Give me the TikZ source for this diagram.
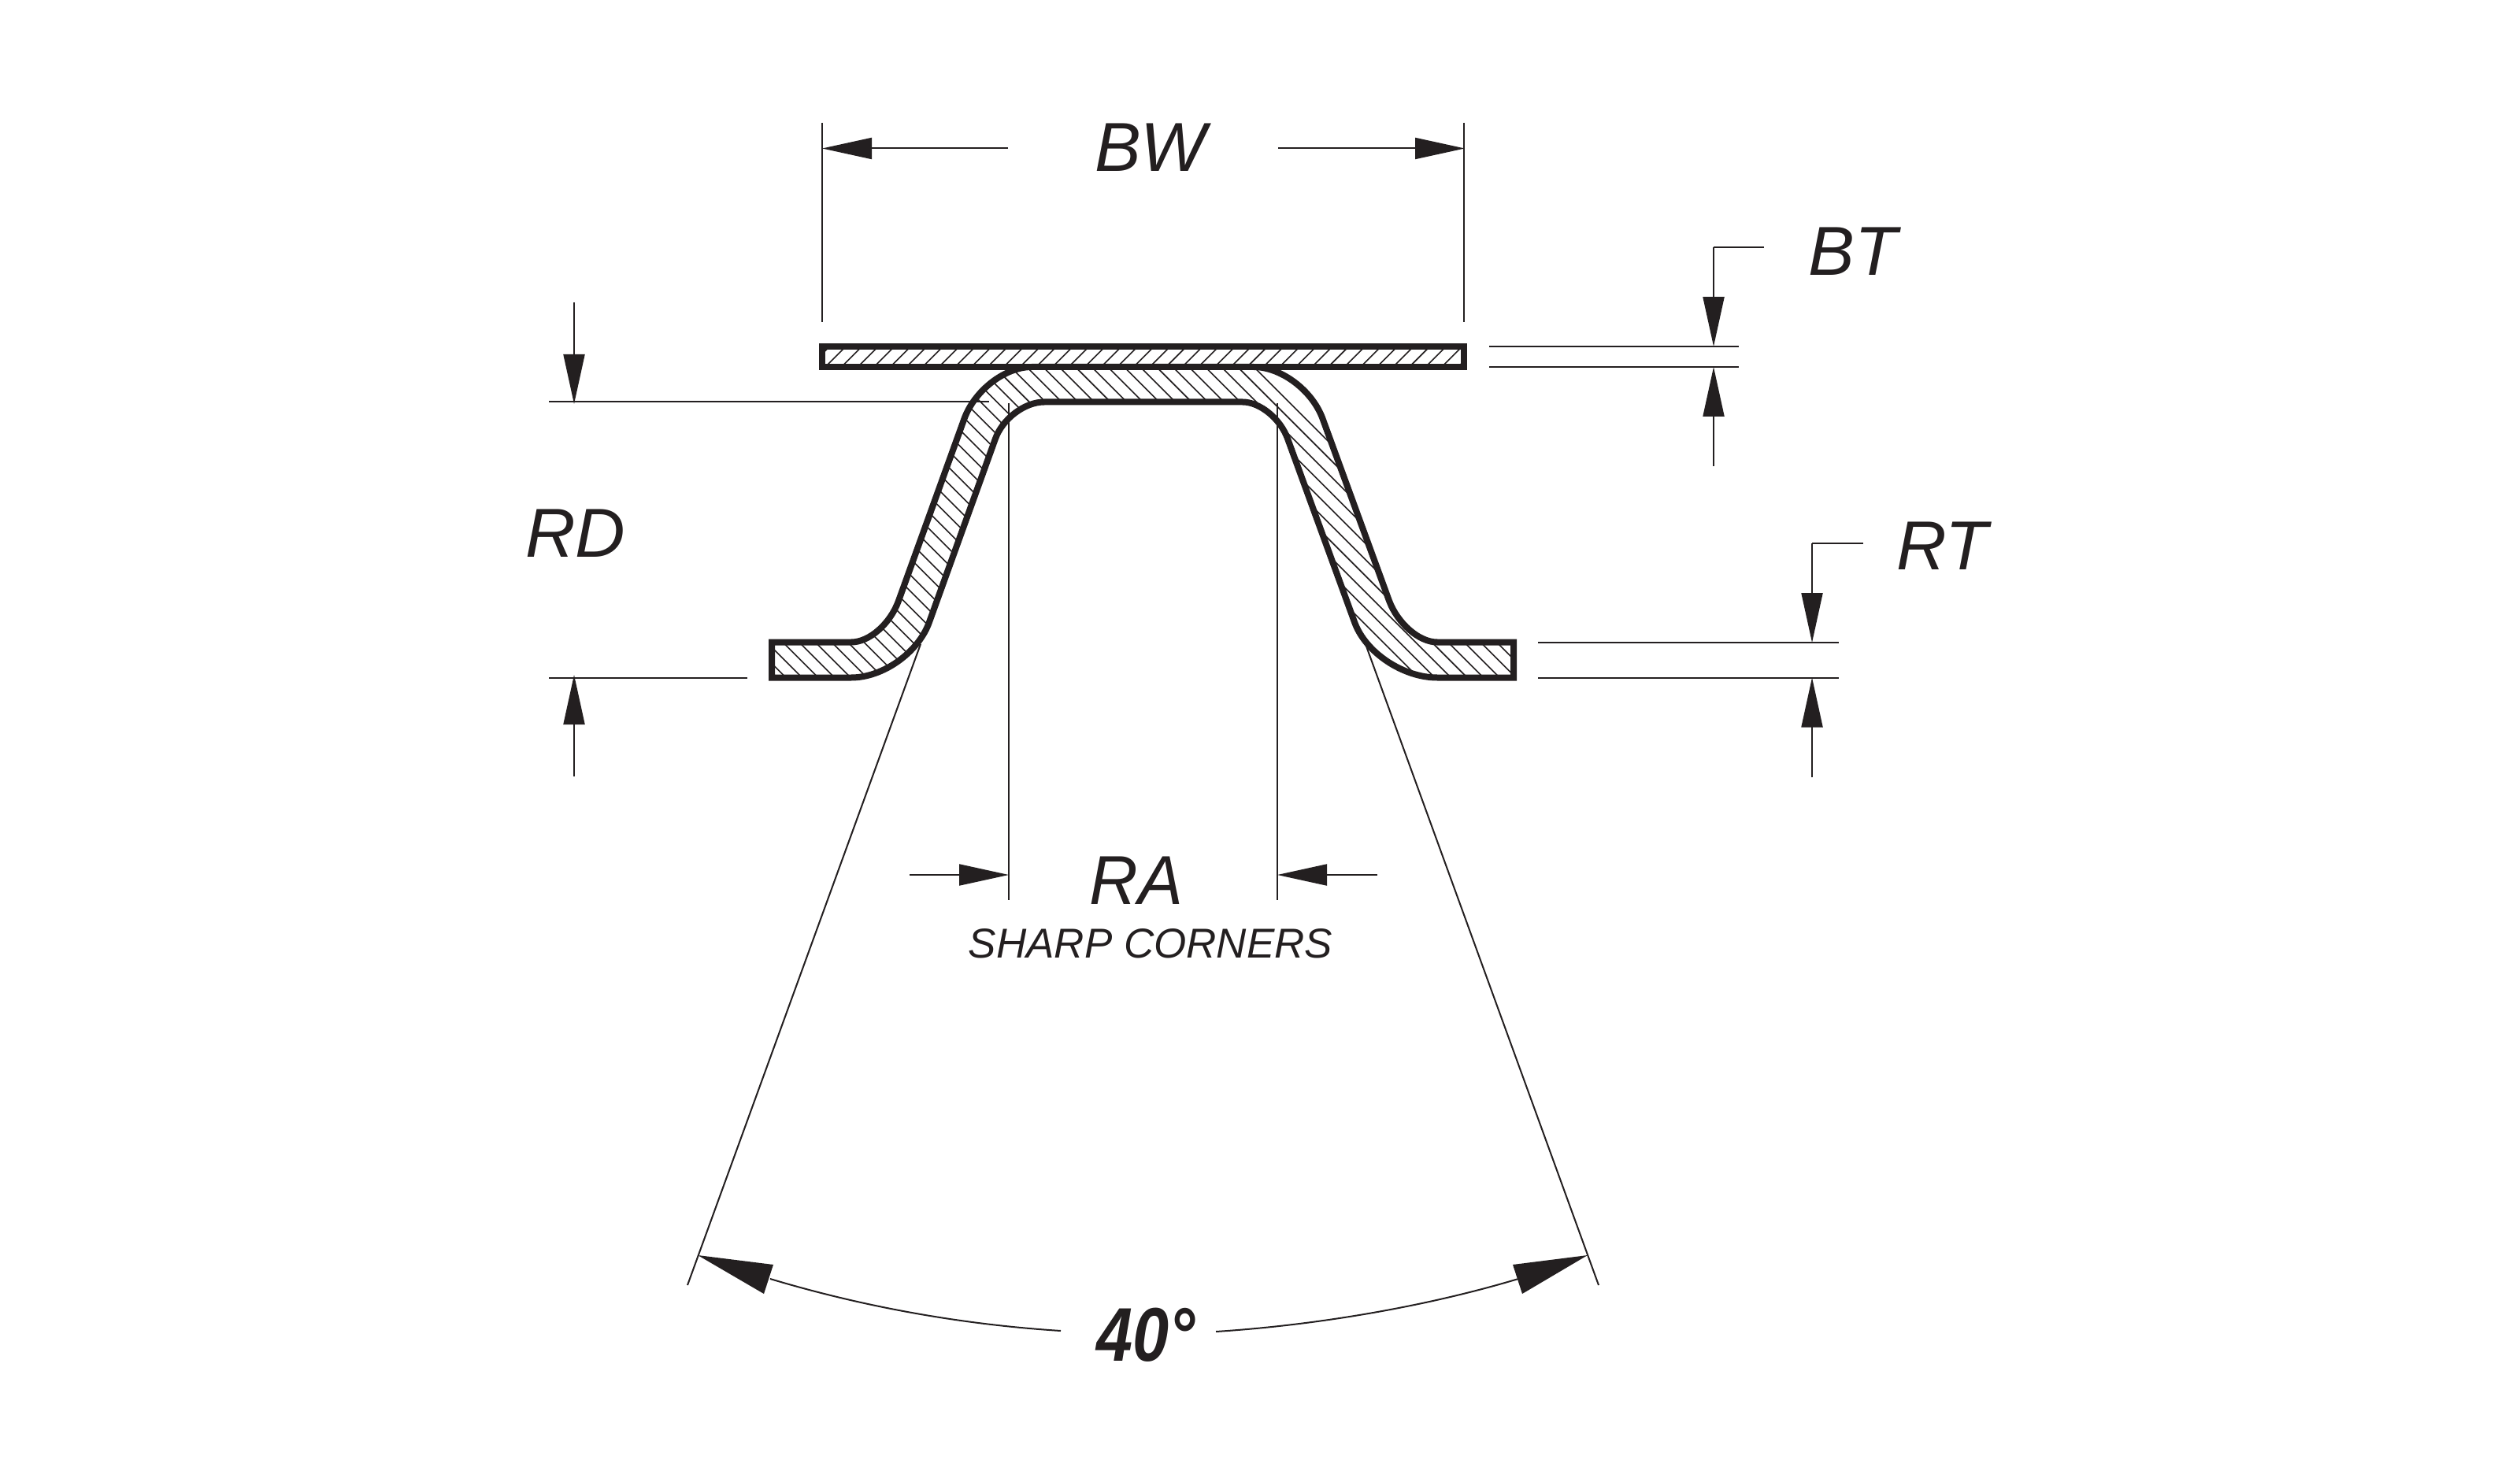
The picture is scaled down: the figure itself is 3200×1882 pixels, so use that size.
\documentclass[tikz,border=0pt]{standalone}
\usepackage{fontspec}
\usepackage{graphicx}
\setmainfont{Liberation Sans}
\usetikzlibrary{arrows.meta}
\definecolor{ink}{HTML}{231F20}
\tikzset{
  thinline/.style={draw=ink,line width=0.5pt},
  hatchline/.style={draw=ink,line width=0.4pt},
  heavy/.style={draw=ink,line width=2pt,line join=miter},
  dimtip/.style={thinline,-{Triangle[length=15.75pt,width=6.75pt,color=ink]}},
  biglabel/.style={text=ink,inner sep=0pt,anchor=base,font=\fontsize{22pt}{24pt}\selectfont\itshape},
  smalllabel/.style={text=ink,inner sep=0pt,anchor=base,font=\fontsize{13.25pt}{15pt}\selectfont\itshape},
  anglelabel/.style={text=ink,inner sep=0pt,anchor=base,font=\fontsize{23pt}{25pt}\selectfont\itshape\bfseries},
}
\def\profilepath{(980,815.5) -- (1081,815.5) .. controls (1104,815.5) and (1130.5,792) .. (1141,763)
  -- (1224,533) .. controls (1237,496) and (1276,466) .. (1310,466)
  -- (1592,466) .. controls (1627,466) and (1667,496) .. (1680,533)
  -- (1764,763) .. controls (1775,792) and (1802,815.5) .. (1825,815.5)
  -- (1922,815.5) -- (1922,860.5) -- (1825,860.5)
  .. controls (1782,860.5) and (1734,829) .. (1720,790)
  -- (1635,557) .. controls (1626,532) and (1600,510.5) .. (1578,510.5)
  -- (1326,510.5) .. controls (1301,510.5) and (1273,532) .. (1264,557)
  -- (1180,790) .. controls (1166,829) and (1121,860.5) .. (1081,860.5)
  -- (980,860.5) -- cycle}
\begin{document}
\begin{tikzpicture}[x=0.25pt,y=-0.25pt]
\useasboundingbox (0,0) rectangle (3200,1882);
% hatching of the hat profile
\begin{scope}
  \clip \profilepath;
  \foreach \k in {-42,...,7}{
    \pgfmathsetmacro{\c}{982+20.6*\k}
    \pgfmathsetmacro{\xa}{\c+400}
    \pgfmathsetmacro{\xb}{\c+900}
    \draw[hatchline] (\xa,400) -- (\xb,900);
  }
\end{scope}
% hatching of the plate
\begin{scope}
  \clip (1044,440) rectangle (1859,466);
  \foreach \k in {-2,...,41}{
    \pgfmathsetmacro{\s}{1514+20.6*\k}
    \pgfmathsetmacro{\xa}{\s-400}
    \pgfmathsetmacro{\xb}{\s-500}
    \draw[hatchline] (\xa,400) -- (\xb,500);
  }
\end{scope}
\draw[heavy] \profilepath;
\draw[heavy] (1044,440) rectangle (1859,466);
% BW
\draw[thinline] (1044,156) -- (1044,409);
\draw[thinline] (1859,156) -- (1859,409);
\draw[dimtip] (1280,188.5) -- (1044,188.5);
\draw[dimtip] (1623,188.5) -- (1860,188.5);
\node[biglabel] (bw) at (1461,218) {BW};
% BT
\draw[thinline] (1891,440) -- (2208,440);
\draw[thinline] (1891,466) -- (2208,466);
\draw[thinline] (2240,314) -- (2176,314);
\draw[dimtip] (2176,314) -- (2176,440);
\draw[dimtip] (2176,592) -- (2176,466);
\node[biglabel] (bt) at (2353,349.5) {BT};
% RT
\draw[thinline] (1953,815.5) -- (2335,815.5);
\draw[thinline] (1953,860.5) -- (2335,860.5);
\draw[thinline] (2366,690) -- (2301,690);
\draw[dimtip] (2301,690) -- (2301,816);
\draw[dimtip] (2301,987) -- (2301,860.5);
\node[biglabel] (rt) at (2466,723) {RT};
% RD
\draw[thinline] (697,510.5) -- (1256,510.5);
\draw[thinline] (697,860.5) -- (949,860.5);
\draw[dimtip] (729,384) -- (729,513);
\draw[dimtip] (729,985.5) -- (729,857);
\node[biglabel] (rd) at (731,707) {RD};
% RA
\draw[thinline] (1281,512) -- (1281,1143);
\draw[thinline] (1622,512) -- (1622,1143);
\draw[dimtip] (1155,1111) -- (1281,1111);
\draw[dimtip] (1749,1111) -- (1622,1111);
\node[biglabel] (ra) at (1443,1148) {\scalebox{0.97}[1]{RA}};
\node[smalllabel] (sharp) at (1461,1216) {SHARP CORNERS};
% 40 degrees
\draw[thinline] (1169,818) -- (873,1632);
\draw[thinline] (1734,818) -- (2030,1632);
\draw[thinline] (978,1624) .. controls (1098,1660) and (1222,1682) .. (1347,1690);
\draw[thinline] (1544,1691) .. controls (1669,1683) and (1808,1660) .. (1928,1624);
\fill[ink] (886,1594) -- (982,1606) -- (970,1643) -- cycle;
\fill[ink] (2016,1594) -- (1921,1606) -- (1933,1643) -- cycle;
\node[anglelabel] (ang) at (1455,1728) {\scalebox{0.9}[1.05]{40°}};
\end{tikzpicture}
\end{document}
